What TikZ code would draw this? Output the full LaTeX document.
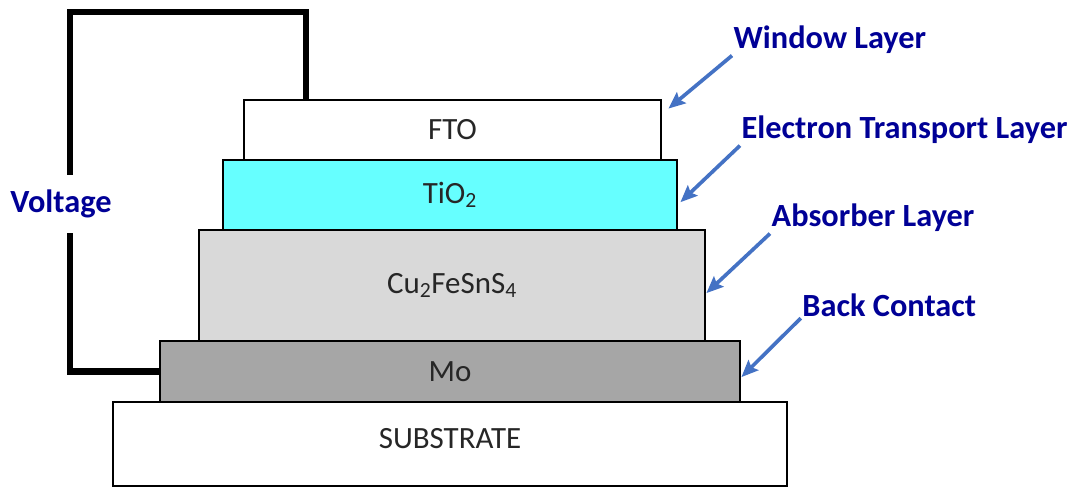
\documentclass[tikz,border=0pt]{standalone}
\usepackage{fontspec}
\setmainfont{Carlito}
\usetikzlibrary{arrows.meta, positioning}

\definecolor{tiocyan}{HTML}{66FFFF}
\definecolor{cfgray}{HTML}{D9D9D9}
\definecolor{mogray}{HTML}{A6A6A6}
\definecolor{lblblue}{RGB}{0,0,150}
\definecolor{arrblue}{HTML}{4472C4}

\begin{document}
\begin{tikzpicture}[
  layer/.style={rectangle, draw, line width=2pt, fill=white, inner sep=0pt, align=center, text=black!85, font=\fontsize{22}{26}\selectfont},
  lbl/.style={anchor=west, inner sep=1pt, text=lblblue, font=\fontsize{23}{27}\selectfont\bfseries},
  arr/.style={-{Stealth[length=12pt, width=10pt, inset=2pt]}, line width=2.6pt, arrblue},
  wire/.style={line width=4.3pt, black}
]
\useasboundingbox (0,0) rectangle (26.75,-12.175);

% Layers
\node[layer, minimum width=16.85cm, minimum height=2.1cm, text depth=0.3cm] (sub) at (11.25,-11.1) {SUBSTRATE};
\node[layer, fill=mogray, minimum width=14.5cm, minimum height=1.525cm] (mo) at (11.25,-9.2875) {Mo};
\node[layer, fill=cfgray, minimum width=12.65cm, minimum height=2.775cm] (cfts) at (11.3,-7.1375) {Cu\textsubscript{2}FeSnS\textsubscript{4}};
\node[layer, fill=tiocyan, minimum width=11.35cm, minimum height=1.75cm] (tio) at (11.25,-4.875) {TiO\textsubscript{2}};
\node[layer, minimum width=10.425cm, minimum height=1.5cm] (fto) at (11.3125,-3.25) {FTO};

% Labels
\node[lbl] (win) at (18.3,-1.0) {Window Layer};
\node[lbl] (etl) at (18.5,-3.25) {Electron Transport Layer};
\node[lbl] (abs) at (19.25,-5.45) {Absorber Layer};
\node[lbl] (back) at (20.02,-7.625) {Back Contact};
\node[text=lblblue, font=\fontsize{23}{27}\selectfont\bfseries, minimum height=1.45cm, inner sep=0pt] (volt) at (1.525,-5.1) {Voltage};

% Circuit
\coordinate (wtop) at (1.75,-0.3);
\draw[wire] ([xshift=1.575cm]fto.north west) |- (wtop) -- ([xshift=0.225cm]volt.north);
\draw[wire] ([xshift=0.225cm]volt.south) |- (mo.west);

% Connections
\draw[arr] (win.south west) -- ([shift={(0.15,-0.25)}]fto.north east);
\draw[arr] (etl.south west) -- ([shift={(0.05,-0.18)}]tio.east);
\draw[arr] (abs.south west) -- ([yshift=-0.19cm]cfts.east);
\draw[arr] (back.south west) -- ([yshift=-0.14cm]mo.east);

\end{tikzpicture}
\end{document}
